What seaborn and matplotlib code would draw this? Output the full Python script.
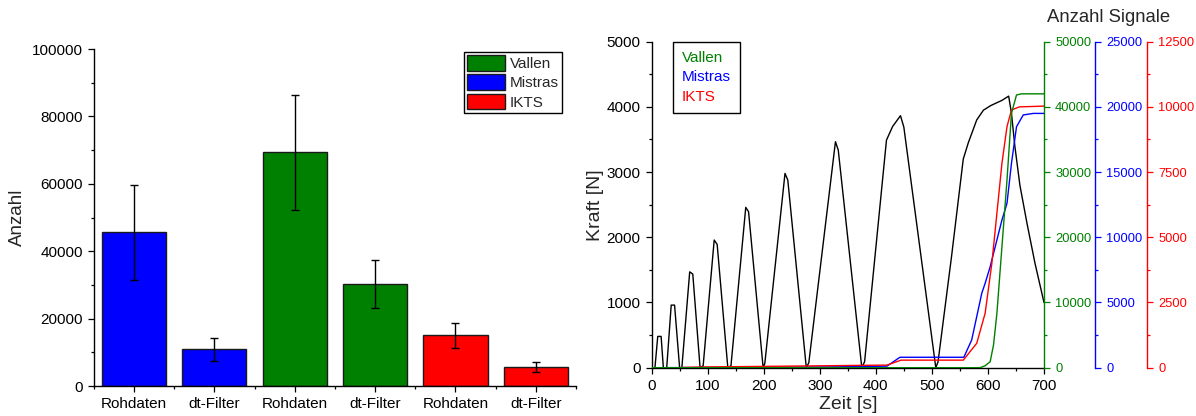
# ============================================================
# Anzahl Signale: Balkendiagramm + Kraft/Zeit mit Signalsummen
# ============================================================

import matplotlib
matplotlib.use("Agg")
import numpy as np
import pandas as pd
import matplotlib.pyplot as plt
import seaborn as sns
from matplotlib.ticker import MultipleLocator, FixedLocator

# ============================================================
# Daten
# ============================================================

bar_labels = ["Rohdaten", "dt-Filter", "Rohdaten", "dt-Filter", "Rohdaten", "dt-Filter"]
bar_system = ["Mistras", "Mistras", "Vallen", "Vallen", "IKTS", "IKTS"]
bar_mean = [45600, 10900, 69300, 30300, 15100, 5600]
bar_err = [14200, 3450, 17200, 7100, 3700, 1450]

system_order = ["Vallen", "Mistras", "IKTS"]
system_colors = {"Vallen": "#008000", "Mistras": "#0000FF", "IKTS": "#FF0000"}

force_t = [0, 6, 11, 17, 21, 27,
           35, 41, 50, 54,
           68, 73.5, 86.5, 92,
           111.7, 117, 136, 141.6,
           168, 173, 199, 202,
           238, 243, 276, 280.5,
           328, 333, 375, 380,
           419, 430, 444, 450, 507, 511,
           535, 556, 565, 580, 592, 605, 625, 637,
           642, 648, 657, 670, 684, 700]
force_F = [0, 0, 480, 480, 0, 0,
           960, 960, 0, 0,
           1470, 1436, 0, 30,
           1958, 1891, 0, 30,
           2459, 2392, 0, 66,
           2980, 2878, 0, 77,
           3466, 3338, 0, 92,
           3490, 3700, 3865, 3690, 0, 90,
           1700, 3200, 3450, 3800, 3950, 4020, 4100, 4165,
           3900, 3400, 2800, 2200, 1600, 1000]

# Kumulierte Signale
vallen_t = [0, 586, 595, 604, 610, 616, 625, 634, 642, 651, 660, 700]
vallen_n = [0, 0, 300, 920, 3500, 8340, 18560, 28790, 39020, 41830, 42000, 42000]

mistras_t = [0, 320, 420, 443, 557, 571, 589, 595, 604, 616, 625, 634, 642, 651, 663, 681, 700]
mistras_n = [0, 60, 120, 800, 800, 2124, 5705, 6470, 7745, 9793, 11326, 12607, 15675, 18482, 19380, 19500, 19500]

ikts_t = [54, 100, 200, 320, 420, 445, 556, 580, 595, 607, 616, 625, 634, 642, 656, 700]
ikts_n = [10, 30, 50, 77, 100, 290, 290, 936, 2086, 4003, 5920, 7837, 9241, 9881, 10000, 10030]

# ============================================================
# Stil
# ============================================================

sns.set_theme(style="ticks")
plt.rcParams["font.family"] = ["Liberation Sans", "DejaVu Sans"]
plt.rcParams["axes.edgecolor"] = "black"
plt.rcParams["axes.linewidth"] = 1.0
plt.rcParams["xtick.color"] = "black"
plt.rcParams["ytick.color"] = "black"
plt.rcParams["xtick.major.size"] = 4.5
plt.rcParams["ytick.major.size"] = 4.5
plt.rcParams["xtick.minor.size"] = 2.5
plt.rcParams["ytick.minor.size"] = 2.5
plt.rcParams["xtick.major.width"] = 0.9
plt.rcParams["ytick.major.width"] = 0.9
plt.rcParams["xtick.minor.width"] = 0.9
plt.rcParams["ytick.minor.width"] = 0.9

fig = plt.figure(figsize=(11.96, 4.16), dpi=100)

# ============================================================
# Links: Balken
# ============================================================

ax1 = fig.add_axes([0.0784, 0.0721, 0.4032, 0.810])

df_bars = pd.DataFrame({
    "Gruppe": [f"{s} {l}" for s, l in zip(bar_system, bar_labels)],
    "System": bar_system,
    "Anzahl": bar_mean,
})

sns.barplot(
    data=df_bars,
    x="Gruppe",
    y="Anzahl",
    hue="System",
    hue_order=system_order,
    palette=system_colors,
    dodge=False,
    width=0.8,
    saturation=1,
    edgecolor="#1a1a1a",
    linewidth=1,
    errorbar=None,
    ax=ax1,
)

ax1.errorbar(
    np.arange(len(bar_mean)), bar_mean, yerr=bar_err,
    fmt="none", ecolor="black", elinewidth=1, capsize=3, capthick=1, zorder=5
)

ax1.set_xlim(-0.5, len(bar_mean) - 0.5)
ax1.set_ylim(0, 100000)
ax1.yaxis.set_major_locator(MultipleLocator(20000))
ax1.yaxis.set_minor_locator(MultipleLocator(10000))
ax1.xaxis.set_minor_locator(FixedLocator(np.arange(-0.5, len(bar_mean), 1.0)))
ax1.set_xticks(np.arange(len(bar_labels)))
ax1.set_xticklabels(bar_labels)
ax1.tick_params(axis="both", labelsize=11)
ax1.set_xlabel("")
ax1.set_ylabel("Anzahl", fontsize=13.5, labelpad=4)
sns.despine(ax=ax1)

handles, labels = ax1.get_legend_handles_labels()
ax1.legend(
    handles, labels,
    loc="upper right", bbox_to_anchor=(0.971, 0.991),
    frameon=True, fancybox=False, edgecolor="black", framealpha=1,
    fontsize=11, handlelength=2.5, handleheight=1.2,
    borderpad=0.2, labelspacing=0.22, handletextpad=0.3, borderaxespad=0,
)
ax1.get_legend().get_frame().set_linewidth(1.0)

# ============================================================
# Rechts: Kraft + Signale
# ============================================================

ax2 = fig.add_axes([0.5448, 0.1161, 0.3281, 0.7837])

sns.lineplot(x=force_t, y=force_F, color="black", linewidth=1.0,
             estimator=None, sort=False, ax=ax2)

ax2.set_xlim(0, 700)
ax2.set_ylim(0, 5000)
ax2.xaxis.set_major_locator(MultipleLocator(100))
ax2.xaxis.set_minor_locator(MultipleLocator(50))
ax2.yaxis.set_major_locator(MultipleLocator(1000))
ax2.yaxis.set_minor_locator(MultipleLocator(500))
ax2.tick_params(axis="both", labelsize=11)
ax2.set_xlabel("Zeit [s]", fontsize=14, labelpad=2)
ax2.set_ylabel("Kraft [N]", fontsize=14, labelpad=2)
ax2.spines["top"].set_visible(False)
ax2.spines["right"].set_visible(False)

secondary = [
    ("Mistras", mistras_t, mistras_n, 25000, 5000, 2500, 36.7),
    ("IKTS", ikts_t, ikts_n, 12500, 2500, 1250, 74.2),
    ("Vallen", vallen_t, vallen_n, 50000, 10000, 5000, 0),
]

for name, t, n, top, major, minor, offset in secondary:
    col = system_colors[name]
    axs = ax2.twinx()
    sns.lineplot(x=t, y=n, color=col, linewidth=1.0,
                 estimator=None, sort=False, ax=axs)
    axs.set_ylim(0, top)
    axs.set_ylabel("")
    axs.yaxis.set_major_locator(MultipleLocator(major))
    axs.yaxis.set_minor_locator(MultipleLocator(minor))
    for side in ["top", "left", "bottom"]:
        axs.spines[side].set_visible(False)
    axs.spines["right"].set_visible(True)
    axs.spines["right"].set_position(("outward", offset))
    axs.spines["right"].set_color(col)
    axs.tick_params(axis="y", which="both", colors=col, labelcolor=col, labelsize=9.3)

# Legende nur mit farbigem Text
leg = ax2.legend(
    [plt.Line2D([], [], linestyle="none")] * 3, system_order,
    loc="upper left", bbox_to_anchor=(0.0535, 1.0),
    frameon=True, fancybox=False, edgecolor="black", framealpha=1,
    fontsize=11, handlelength=0, handletextpad=0,
    borderpad=0.6, labelspacing=0.35, borderaxespad=0,
    labelcolor=[system_colors[s] for s in system_order],
)
leg.get_frame().set_linewidth(1.0)
leg.set_zorder(20)

fig.text(0.927, 0.958, "Anzahl Signale", fontsize=13.3, ha="center", va="center")

fig.savefig("out.png", dpi=100)
plt.close(fig)
